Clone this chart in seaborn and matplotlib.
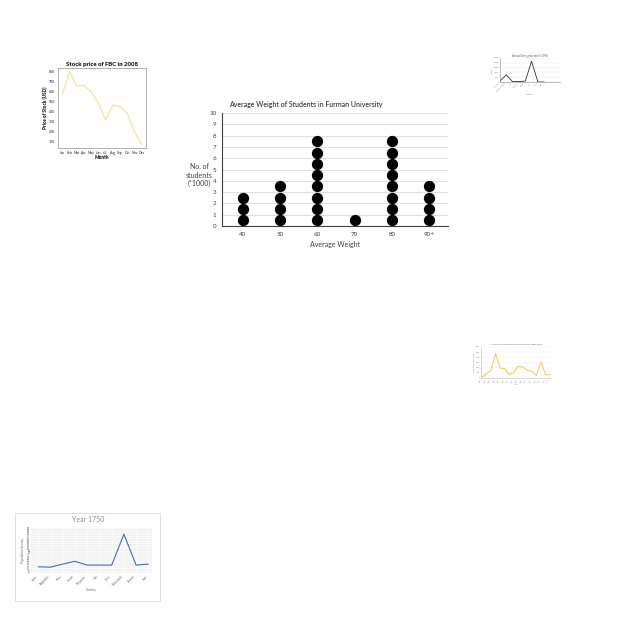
import numpy as np
import pandas as pd
import matplotlib.pyplot as plt
import matplotlib.patches as mpatches
import seaborn as sns

sns.set_theme(style="white")
plt.rcParams['font.family'] = ['Lato', 'DejaVu Sans']

# main dot plot
weight_bins = ["40", "50", "60", "70", "80", "90+"]
student_counts = [3, 4, 8, 1, 8, 4]

# stock price thumbnail
months = ["Jan", "Feb", "Mar", "Apr", "May", "Jun", "Jul", "Aug", "Sep", "Oct", "Nov", "Dec"]
stock_price = [572, 800, 655, 660, 600, 482, 312, 463, 448, 381, 197, 68]

# gross thumbnail (top right)
gross_countries = ["Australia", "United Kingdom", "India", "Germany", "Canada", "USA", "China", "Brazil"]
gross_values = [1000, 7500, 300, 500, 900, 21500, 0, 0]

# GDP thumbnail (middle right)
gdp_years = [str(y) for y in range(2000, 2016)]
gdp_values = [100, 420, 740, 2350, 970, 900, 320, 580, 1130, 1060, 740, 650, 260, 1550, 320, 320]

# Year 1750 thumbnail
density_countries = ["Japan", "Bangladesh", "Korea", "Taiwan", "Philippines", "India", "China", "Netherlands", "Vietnam", "Israel"]
density_values = [12.4, 11.7, 17.9, 23.4, 15.8, 15.8, 15.8, 77.6, 15.8, 17.9]

fig = plt.figure(figsize=(6.4, 6.4), dpi=100)


def px_axes(x0, y0, x1, y1):
    return fig.add_axes([x0 / 640, 1 - y1 / 640, (x1 - x0) / 640, (y1 - y0) / 640])


# ---- main chart ----
rows = []
for i, (b, c) in enumerate(zip(weight_bins, student_counts)):
    for k in range(c):
        rows.append({"pos": i, "level": k + 0.5})
dots = pd.DataFrame(rows)

ax = px_axes(222, 113, 448, 226)
ax.yaxis.grid(True, color="#d9d9d9", linewidth=0.6)
ax.set_axisbelow(True)
sns.scatterplot(data=dots, x="pos", y="level", ax=ax, color="black", s=66,
                edgecolor="black", linewidth=0, legend=False, zorder=3)
ax.set_xlim(-0.55, 5.5)
ax.set_ylim(0, 10)
ax.set_xticks(range(len(weight_bins)))
ax.set_xticklabels(weight_bins)
ax.set_yticks(range(0, 11))
ax.tick_params(labelsize=4.5, length=0, pad=4, colors="#404040")
for s in ["top", "right"]:
    ax.spines[s].set_visible(False)
for s in ["left", "bottom"]:
    ax.spines[s].set_color("#404040")
    ax.spines[s].set_linewidth(0.8)
ax.set_xlabel("Average Weight", fontsize=5, color="#404040", labelpad=3)
ax.set_ylabel("No. of\nstudents\n(*1000)", fontsize=5, color="#404040",
              rotation=0, ha="center", va="center", labelpad=14)
ax.yaxis.set_label_coords(-0.1, 0.45)
ax.set_title("Average Weight of Students in Furman University", fontsize=5,
             color="#404040", loc="left", x=0.03, pad=4, fontweight="semibold")

# ---- stock price ----
ax2 = px_axes(58, 68, 146, 148)
stock = pd.DataFrame({"Month": months, "Price": stock_price})
sns.lineplot(data=stock, x="Month", y="Price", ax=ax2, color="#f1e49c", linewidth=0.8, sort=False)
ax2.set_xlim(-0.6, 11.6)
ax2.set_yticks(range(100, 900, 100))
ax2.tick_params(labelsize=2.5, length=1, width=0.3, pad=1)
for s in ax2.spines.values():
    s.set_color("#777777")
    s.set_linewidth(0.4)
ax2.set_title("Stock price of FBC in 2008", fontsize=4.3, fontweight="heavy", pad=1.5)
ax2.set_xlabel("Month", fontsize=3.3, fontweight="heavy", labelpad=0.5)
ax2.set_ylabel("Price of Stock (USD)", fontsize=3.3, fontweight="heavy", labelpad=1)

# ---- gross (top right) ----
ax3 = px_axes(500, 58, 560, 82)
gross = pd.DataFrame({"Country": gross_countries, "Gross": gross_values})
sns.lineplot(data=gross, x="Country", y="Gross", ax=ax3, color="#333333", linewidth=0.6, sort=False)
ax3.set_xlim(0, 9.5)
ax3.set_ylim(0, 25000)
ax3.set_yticks(range(0, 25001, 5000))
ax3.yaxis.grid(True, color="#e6e6e6", linewidth=0.3)
ax3.tick_params(labelsize=1.3, length=0, pad=0.5, colors="#888888")
plt.setp(ax3.get_xticklabels(), rotation=45, ha="right")
for s in ["top", "right"]:
    ax3.spines[s].set_visible(False)
for s in ["left", "bottom"]:
    ax3.spines[s].set_color("#888888")
    ax3.spines[s].set_linewidth(0.4)
ax3.set_title("Annual Gross generated in 1998", fontsize=1.8, pad=1, color="#555555")
ax3.set_xlabel("Country", fontsize=1.6, color="#888888", labelpad=1)
ax3.set_ylabel("Gross", fontsize=1.6, color="#888888", labelpad=1)

# ---- GDP (middle right) ----
ax4 = px_axes(481, 347, 551, 378)
gdp = pd.DataFrame({"Year": gdp_years, "GDP": gdp_values})
sns.lineplot(data=gdp, x="Year", y="GDP", ax=ax4, color="#e8cf57", linewidth=0.7, sort=False)
ax4.set_xlim(-0.2, 15.2)
ax4.set_ylim(0, 3000)
ax4.set_yticks(range(0, 3001, 500))
ax4.yaxis.grid(True, color="#eeeeee", linewidth=0.3)
ax4.tick_params(labelsize=1.3, length=0, pad=0.5, colors="#888888")
plt.setp(ax4.get_xticklabels(), rotation=60, ha="right")
for s in ["top", "right"]:
    ax4.spines[s].set_visible(False)
for s in ["left", "bottom"]:
    ax4.spines[s].set_color("#bbbbbb")
    ax4.spines[s].set_linewidth(0.4)
ax4.set_title("African gross domestic product (GDP) 2000-2015", fontsize=1.7, pad=1.5, color="#666666")
ax4.set_xlabel("Year", fontsize=1.5, color="#888888", labelpad=1)
ax4.set_ylabel("GDP (in billion USD)", fontsize=1.5, color="#888888", labelpad=1)

# ---- Year 1750 (bottom left) ----
fig.patches.append(mpatches.Rectangle((15 / 640, 1 - 601 / 640), 145 / 640, 88 / 640,
                                      transform=fig.transFigure, facecolor="none",
                                      edgecolor="#d9d9d9", linewidth=0.6, zorder=-1))
fig.text(88 / 640, 1 - 520 / 640, "Year 1750", fontsize=5, color="#8c8c8c", ha="center", va="center")
ax5 = px_axes(31, 528, 152, 573)
ax5.set_facecolor("#f2f2f2")
dens = pd.DataFrame({"Country": density_countries, "Density": density_values})
sns.lineplot(data=dens, x="Country", y="Density", ax=ax5, color="#4a6ea8", linewidth=0.8, sort=False)
ax5.set_xlim(-0.6, 9.3)
ax5.set_ylim(0, 90)
ax5.set_yticks(range(0, 91, 5))
ax5.grid(True, color="white", linewidth=0.4)
ax5.tick_params(labelsize=1.8, length=0, pad=1, colors="#666666")
plt.setp(ax5.get_xticklabels(), rotation=45, ha="right")
for s in ax5.spines.values():
    s.set_visible(False)
ax5.set_xlabel("Country", fontsize=2.2, color="#666666", labelpad=1)
ax5.set_ylabel("Population density", fontsize=2.2, color="#666666", labelpad=1)

fig.savefig("out.png", dpi=100)
